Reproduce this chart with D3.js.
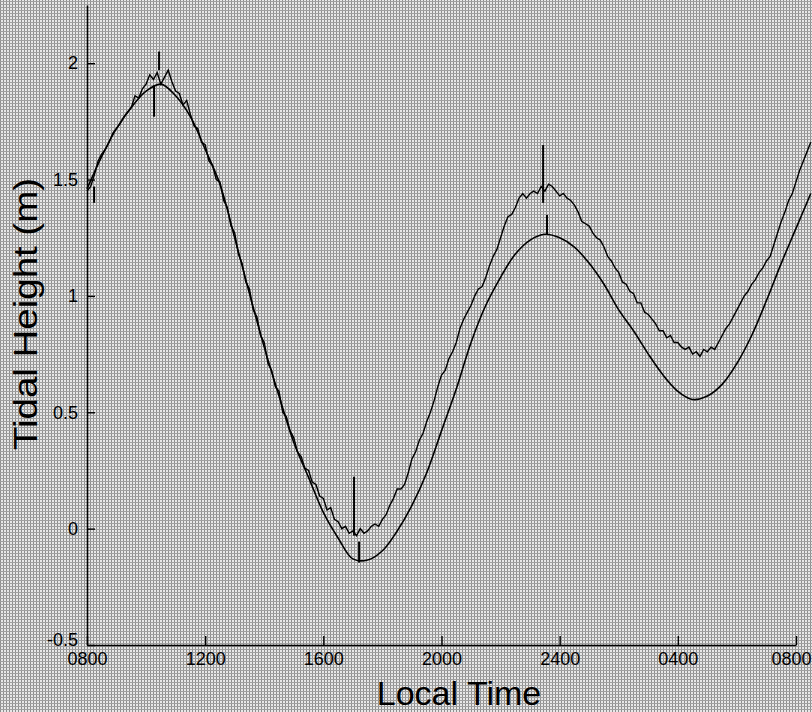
<!DOCTYPE html>
<html>
<head>
<meta charset="utf-8">
<script src="https://cdn.jsdelivr.net/npm/d3@7"></script>
<style>
  html, body { margin: 0; padding: 0; background: #c9c9c9; }
  svg { display: block; }
  text { font-family: "Liberation Sans", Arial, Helvetica, sans-serif; fill: #000; }
</style>
</head>
<body>
<svg id="chart" width="812" height="712"></svg>
<script>
// hours after 0800 on the first day
const tickHours = [0, 4, 8, 12, 16, 20, 24];
const timeLabels = ["0800", "1200", "1600", "2000", "2400", "0400", "0800"];
const heightTicks = [-0.5, 0, 0.5, 1, 1.5, 2];
const heightLabels = ["-0.5", "0", "0.5", "1", "1.5", "2"];

// predicted tide, every half hour
const predictedHours = [0, 0.5, 1, 1.5, 2, 2.5, 3, 3.5, 4, 4.5, 5, 5.5, 6, 6.5, 7, 7.5, 8, 8.5, 9, 9.5,
  10, 10.5, 11, 11.5, 12, 12.5, 13, 13.5, 14, 14.5, 15, 15.5, 16, 16.5, 17, 17.5, 18, 18.5, 19, 19.5,
  20, 20.5, 21, 21.5, 22, 22.5, 23, 23.5, 24, 24.5];
const predicted = [1.46, 1.60, 1.72, 1.81, 1.88, 1.91, 1.86, 1.77, 1.63, 1.48, 1.25, 1.01, 0.78, 0.57, 0.37, 0.22, 0.07, -0.04, -0.13, -0.135,
  -0.095, -0.01, 0.10, 0.24, 0.42, 0.60, 0.80, 0.96, 1.08, 1.18, 1.24, 1.265, 1.25, 1.21, 1.14, 1.05, 0.94, 0.85, 0.75, 0.66,
  0.59, 0.555, 0.57, 0.62, 0.71, 0.83, 0.98, 1.14, 1.29, 1.44];

// measured tide, every 7.5 minutes from 0800 (one row per hour)
const measuredStep = 0.125;
const measured = [
  1.45, 1.47, 1.52, 1.58, 1.61, 1.63, 1.66, 1.70,
  1.72, 1.74, 1.77, 1.79, 1.81, 1.86, 1.85, 1.89,
  1.91, 1.95, 1.93, 1.96, 1.91, 1.94, 1.97, 1.92,
  1.88, 1.87, 1.82, 1.84, 1.78, 1.73, 1.72, 1.66,
  1.65, 1.58, 1.56, 1.50, 1.49, 1.41, 1.38, 1.30,
  1.27, 1.18, 1.14, 1.06, 1.03, 0.94, 0.91, 0.83,
  0.80, 0.71, 0.68, 0.61, 0.59, 0.50, 0.48, 0.42,
  0.39, 0.33, 0.31, 0.26, 0.25, 0.20, 0.19, 0.14,
  0.13, 0.08, 0.09, 0.04, 0.03, 0.00, 0.01, -0.02,
  -0.01, -0.03, 0.00, -0.02, -0.01, 0.01, 0.02, 0.01,
  0.04, 0.06, 0.10, 0.13, 0.17, 0.17, 0.19, 0.24,
  0.30, 0.33, 0.38, 0.41, 0.46, 0.50, 0.55, 0.61,
  0.66, 0.68, 0.73, 0.76, 0.80, 0.86, 0.90, 0.93,
  0.96, 1.00, 1.03, 1.04, 1.08, 1.13, 1.17, 1.20,
  1.25, 1.30, 1.34, 1.35, 1.38, 1.42, 1.44, 1.42,
  1.44, 1.45, 1.44, 1.47, 1.45, 1.48, 1.47, 1.45,
  1.43, 1.44, 1.42, 1.41, 1.39, 1.36, 1.32, 1.31,
  1.30, 1.27, 1.25, 1.24, 1.21, 1.17, 1.15, 1.12,
  1.10, 1.06, 1.05, 1.02, 1.01, 0.97, 0.97, 0.93,
  0.92, 0.90, 0.88, 0.85, 0.85, 0.82, 0.83, 0.80,
  0.80, 0.78, 0.77, 0.78, 0.75, 0.76, 0.74, 0.77,
  0.76, 0.78, 0.77, 0.80, 0.83, 0.86, 0.88, 0.91,
  0.94, 0.97, 1.00, 1.02, 1.05, 1.07, 1.10, 1.12,
  1.15, 1.17, 1.22, 1.27, 1.32, 1.36, 1.41, 1.44,
  1.49, 1.54, 1.58, 1.62, 1.66];

// vertical marks at the turning points: hour, from, to
const markHours = [0.24, 2.27, 2.44, 9.04, 9.21, 15.44, 15.57];
const markLow = [1.40, 1.77, 1.97, -0.03, -0.146, 1.40, 1.262];
const markHigh = [1.47, 1.905, 2.05, 0.223, -0.056, 1.648, 1.348];

const svg = d3.select("#chart");

const x = d3.scaleLinear().domain([0, 24]).range([87, 796]);
const y = d3.scaleLinear().domain([-0.5, 2.25]).range([645, 5]);

// halftone-ish paper
const defs = svg.append("defs");
const pat = defs.append("pattern")
  .attr("id", "dots")
  .attr("width", 3).attr("height", 3)
  .attr("patternUnits", "userSpaceOnUse");
pat.append("rect").attr("width", 3).attr("height", 3).attr("fill", "#e8e8e8");
pat.append("rect").attr("width", 1).attr("height", 3).attr("fill", "#8e8e8e");
pat.append("rect").attr("y", 1).attr("width", 3).attr("height", 1).attr("fill", "#a0a0a0");

svg.append("rect")
  .attr("width", 812).attr("height", 712)
  .attr("fill", "url(#dots)");

const xAxis = d3.axisBottom(x)
  .tickValues(tickHours)
  .tickFormat((d, i) => timeLabels[i])
  .tickSizeInner(-9)
  .tickSizeOuter(0)
  .tickPadding(7);

const yAxis = d3.axisLeft(y)
  .tickValues(heightTicks)
  .tickFormat((d, i) => heightLabels[i])
  .tickSizeInner(-8)
  .tickSizeOuter(0)
  .tickPadding(9);

const gx = svg.append("g")
  .attr("transform", `translate(0,${y(-0.5)})`)
  .call(xAxis);
const gy = svg.append("g")
  .attr("transform", `translate(${x(0)},0)`)
  .call(yAxis);

[gx, gy].forEach(g => {
  g.select(".domain").attr("stroke", "#000").attr("stroke-width", 1.6);
  g.selectAll(".tick line").attr("stroke", "#000").attr("stroke-width", 1.4);
  g.selectAll(".tick text")
    .style("font-size", "18px")
    .style("font-family", "'Liberation Sans', Arial, sans-serif")
    .attr("fill", "#000");
});

// the bottom height label sits a little higher, clear of the first time label
gy.selectAll(".tick text")
  .filter(d => d === -0.5)
  .attr("y", -5);

// last time label runs up to the right edge
gx.selectAll(".tick text")
  .filter(d => d === 24)
  .attr("text-anchor", "end")
  .attr("x", 15);

const predLine = d3.line()
  .x((d, i) => x(predictedHours[i]))
  .y(d => y(d))
  .curve(d3.curveCatmullRom);

svg.append("path")
  .datum(predicted)
  .attr("fill", "none")
  .attr("stroke", "#000")
  .attr("stroke-width", 1.6)
  .attr("d", predLine);

const measLine = d3.line()
  .x((d, i) => x(i * measuredStep))
  .y(d => y(d));

svg.append("path")
  .datum(measured)
  .attr("fill", "none")
  .attr("stroke", "#000")
  .attr("stroke-width", 1.4)
  .attr("d", measLine);

svg.selectAll("line.mark")
  .data(markHours)
  .enter().append("line")
  .attr("class", "mark")
  .attr("x1", d => x(d))
  .attr("x2", d => x(d))
  .attr("y1", (d, i) => y(markLow[i]))
  .attr("y2", (d, i) => y(markHigh[i]))
  .attr("stroke", "#000")
  .attr("stroke-width", 2);

svg.append("text")
  .attr("x", 459)
  .attr("y", 705)
  .attr("text-anchor", "middle")
  .style("font-size", "34px")
  .text("Local Time");

svg.append("text")
  .attr("transform", "translate(37,314) rotate(-90)")
  .attr("text-anchor", "middle")
  .attr("textLength", 272)
  .attr("lengthAdjust", "spacingAndGlyphs")
  .style("font-size", "34px")
  .text("Tidal Height (m)");
</script>
</body>
</html>
